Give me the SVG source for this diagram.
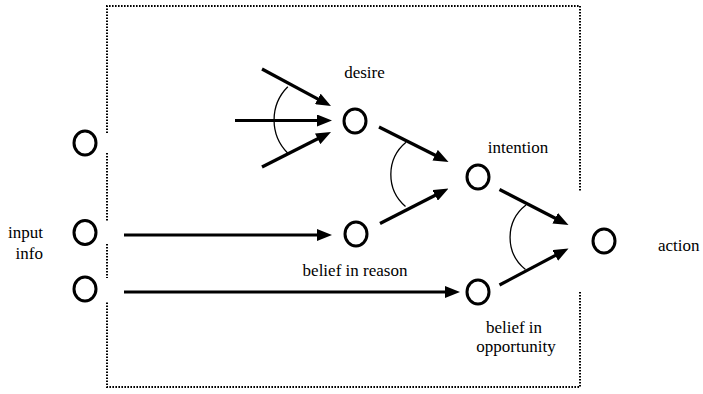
<svg xmlns="http://www.w3.org/2000/svg" width="703" height="394" viewBox="0 0 703 394">
<style>
.frame{fill:none;stroke:#000;stroke-width:2;stroke-dasharray:1.6 1.4}
.node{fill:none;stroke:#000;stroke-width:3}
.arr{fill:none;stroke:#000;stroke-width:3.2;marker-end:url(#ah)}
.arc{fill:none;stroke:#000;stroke-width:1.3}
text{font-family:"Liberation Serif","Times New Roman",serif;font-size:17px;fill:#000}
.c{text-anchor:middle}
.e{text-anchor:end}
</style>
<defs>
<marker id="ah" markerUnits="userSpaceOnUse" markerWidth="15" markerHeight="12" refX="4" refY="6" orient="auto">
<path d="M0,0 L15,6 L0,12 Z" fill="#000"/>
</marker>
</defs>
<rect width="703" height="394" fill="#fff"/>
<g id="frame">
<path class="frame" d="M107,133 V6 H580 V192"/>
<path class="frame" d="M580,292 V387 H107 V302"/>
<path class="frame" d="M107,153 V222"/>
<path class="frame" d="M107,244 V278"/>
</g>
<g id="connectors">
<line class="arr" x1="262" y1="69" x2="321.3" y2="100.8"/>
<line class="arr" x1="235" y1="120.5" x2="321" y2="120.5"/>
<line class="arr" x1="262" y1="167" x2="321.2" y2="137"/>
<path class="arc" d="M287.8,86.8 A47,47 0 0 0 287.8,153.2"/>
<line class="arr" x1="379" y1="127" x2="438.7" y2="157"/>
<line class="arr" x1="380" y1="223.5" x2="438.7" y2="193.5"/>
<path class="arc" d="M406,142.3 A42,42 0 0 0 405.5,206.5"/>
<line class="arr" x1="499.5" y1="189.5" x2="558.7" y2="220"/>
<line class="arr" x1="499.5" y1="285" x2="558.8" y2="253.6"/>
<path class="arc" d="M526,205 A41,41 0 0 0 525.5,269.5"/>
<line class="arr" x1="124" y1="235" x2="321" y2="235"/>
<line class="arr" x1="124" y1="292" x2="449" y2="292"/>
</g>
<g id="in1"><ellipse class="node" cx="85" cy="143" rx="11" ry="12"/></g>
<g id="in2"><ellipse class="node" cx="85" cy="232.5" rx="11" ry="12"/><text class="e" x="43" y="238">input</text><text class="e" x="43" y="259">info</text></g>
<g id="in3"><ellipse class="node" cx="85" cy="289" rx="11" ry="12"/></g>
<g id="desire"><ellipse class="node" cx="355" cy="121" rx="11" ry="12"/><text class="c" x="364.5" y="78">desire</text></g>
<g id="reason"><ellipse class="node" cx="356" cy="234" rx="11" ry="12"/><text class="c" x="355" y="276">belief in reason</text></g>
<g id="intention"><ellipse class="node" cx="478" cy="177" rx="11" ry="12"/><text class="c" x="518" y="153">intention</text></g>
<g id="opportunity"><ellipse class="node" cx="478" cy="292" rx="11" ry="12"/><text class="c" x="514" y="333">belief in</text><text class="c" x="516" y="352">opportunity</text></g>
<g id="action"><ellipse class="node" cx="604" cy="241" rx="11" ry="12"/><text x="658" y="251">action</text></g>
</svg>
